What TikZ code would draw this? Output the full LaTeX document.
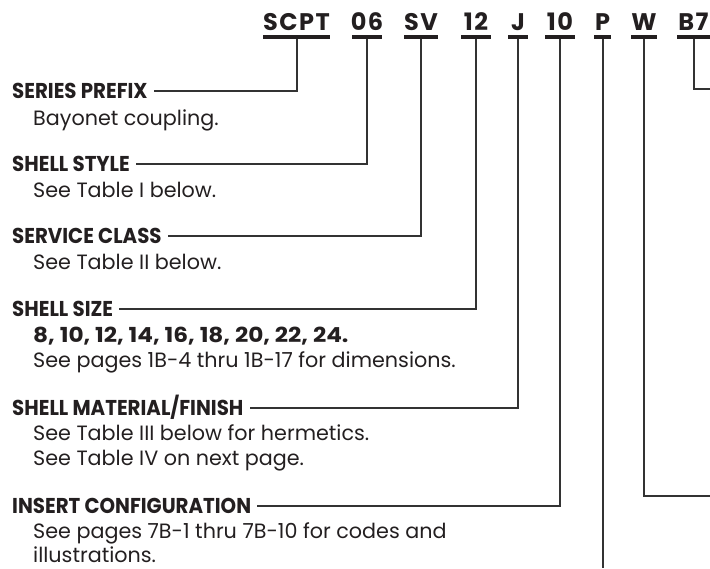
\documentclass[tikz,border=0pt]{standalone}
\usepackage{fontspec}
\setmainfont{Poppins}
\newfontfamily\headfont[FakeStretch=0.92]{Poppins}
\newfontfamily\numfont[FakeStretch=1.12]{Poppins}
\newfontfamily\codefont[LetterSpace=6]{Poppins}
\usetikzlibrary{calc}
\definecolor{ink}{HTML}{231F20}
\definecolor{wire}{HTML}{333333}
\newcommand\codeul[2]{\fill[ink] ($(#1.base)+(-#2,5)$) rectangle ($(#1.base)+(#2,9)$);}
\begin{document}
\begin{tikzpicture}[x=1pt,y=-1pt,
  head/.style={anchor=base west, inner sep=0pt, text height=15pt, text depth=0pt,
    font=\headfont\bfseries\fontsize{21.5}{24}\selectfont, text=ink},
  bodyline/.style={anchor=base west, inner sep=0pt,
    font=\fontsize{20.7}{25}\selectfont, text=ink},
  boldline/.style={bodyline, font=\numfont\bfseries\fontsize{20.7}{25}\selectfont},
  code/.style={anchor=base, inner sep=0pt,
    font=\codefont\bfseries\fontsize{24}{26}\selectfont, text=ink},
  conn/.style={draw=wire, line width=2pt}]
\useasboundingbox (0,0) rectangle (710,568);

% codes
\node[code] (scpt) at (296.5,30) {SCPT};
\node[code] (c06) at (367,30) {06};
\node[code] (csv) at (421,30) {SV};
\node[code] (c12) at (476,30) {12};
\node[code] (cj) at (518,30) {J};
\node[code] (c10) at (560,30) {10};
\node[code] (cp) at (602.5,30) {P};
\node[code] (cw) at (644,30) {W};
\node[code] (cb7) at (693.5,30) {B7};
\codeul{scpt}{33.5}
\codeul{c06}{15}
\codeul{csv}{17}
\codeul{c12}{15}
\codeul{cj}{10}
\codeul{c10}{15}
\codeul{cp}{8.5}
\codeul{cw}{13}
\codeul{cb7}{16.5}

% headings
\node[head] (h1) at (12,98) {SERIES PREFIX};
\node[head] (h2) at (12,171) {SHELL STYLE};
\node[head] (h3) at (12,243) {SERVICE CLASS};
\node[head] (h4) at (12,316) {SHELL SIZE};
\node[head] (h5) at (12,415) {SHELL MATERIAL/FINISH};
\node[head] (h6) at (12,513) {INSERT CONFIGURATION};

% descriptions
\node[bodyline] (d1) at (33,125) {Bayonet coupling.};
\node[bodyline] (d2) at (33,197) {See Table I below.};
\node[bodyline] (d3) at (33,269) {See Table II below.};
\node[boldline] (d4a) at (33,342) {8, 10, 12, 14, 16, 18, 20, 22, 24.};
\node[bodyline] (d4b) at (33,367) {See pages 1B-4 thru 1B-17 for dimensions.};
\node[bodyline] (d5a) at (33,440) {See Table III below for hermetics.};
\node[bodyline] (d5b) at (33,465) {See Table IV on next page.};
\node[bodyline] (d6a) at (33,538) {See pages 7B-1 thru 7B-10 for codes and};
\node[bodyline] (d6b) at (33,562) {illustrations.};

% free ends
\coordinate (pend) at (602.5,568);
\coordinate (wend) at (710,496);
\coordinate (bend) at (710,89);

% connectors
\draw[conn] ([yshift=-9pt]scpt.base) |- ([xshift=6pt]h1.east);
\draw[conn] ([yshift=-9pt]c06.base) |- ([xshift=6pt]h2.east);
\draw[conn] ([yshift=-9pt]csv.base) |- ([xshift=6pt]h3.east);
\draw[conn] ([yshift=-9pt]c12.base) |- ([xshift=6pt]h4.east);
\draw[conn] ([yshift=-9pt]cj.base) |- ([xshift=6pt]h5.east);
\draw[conn] ([yshift=-9pt]c10.base) |- ([xshift=6pt]h6.east);
\draw[conn] ([yshift=-9pt]cp.base) -- (pend);
\draw[conn] ([yshift=-9pt]cw.base) |- (wend);
\draw[conn] ([yshift=-9pt]cb7.base) |- (bend);
\end{tikzpicture}
\end{document}
